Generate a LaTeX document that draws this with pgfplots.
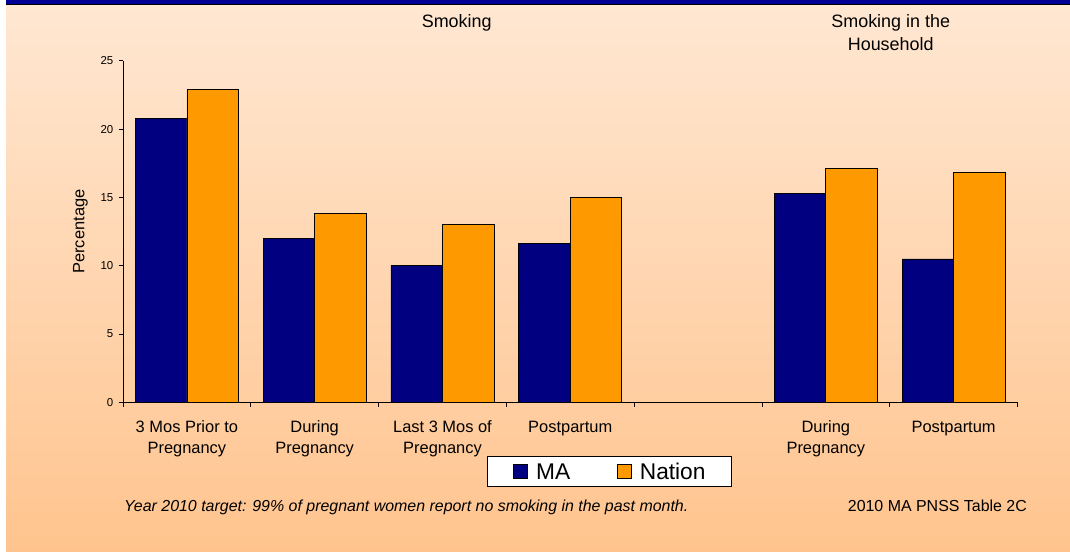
\documentclass[border=0pt]{standalone}
\usepackage{fontspec}
\setmainfont{Liberation Sans}
\usepackage{pgfplots}
\pgfplotsset{compat=1.18}
\definecolor{ma}{RGB}{0,0,128}
\definecolor{nat}{RGB}{255,153,0}
\definecolor{bgtop}{RGB}{255,231,210}
\definecolor{bgbot}{RGB}{255,196,142}
\definecolor{band}{RGB}{0,0,150}
\begin{document}
\begin{tikzpicture}[x=1bp,y=1bp]
\useasboundingbox (0,0) rectangle (1070,-552);
\shade[top color=bgtop,bottom color=bgbot] (6,-4.3) rectangle (1070,-552);
\fill[band] (6,0) rectangle (1070,-4.3);
\draw[black,line width=0.8bp] (6,-4.3) -- (1070,-4.3);
\begin{axis}[
  at={(123bp,-402.3bp)}, anchor=south west,
  scale only axis, width=894.5bp, height=341.5bp,
  ymin=0, ymax=25, ytick={0,5,...,25},
  xmin=-0.5, xmax=6.5,
  xtick={-0.5,0.5,1.5,2.5,3.5,4.5,5.5,6.5},
  x tick label as interval,
  xticklabels={{3 Mos Prior to\\Pregnancy},{During\\Pregnancy},{Last 3 Mos of\\Pregnancy},{Postpartum},{},{During\\Pregnancy},{Postpartum}},
  axis lines*=left,
  axis line style={black, line width=0.8bp},
  tick align=outside,
  major tick length=4.5bp,
  tick style={black, line width=0.8bp},
  /pgf/number format/assume math mode=true,
  yticklabel style={font=\fontsize{11.5}{13}\selectfont, anchor=east, inner sep=0pt, xshift=-5bp},
  xticklabel style={font=\fontsize{16.5}{20.5}\selectfont, align=center, anchor=north, inner sep=0pt, yshift=-14bp},
  every axis y label/.style={at={(axis description cs:-0.0475,0.5)}, rotate=90, anchor=center, font=\fontsize{16.5}{20}\selectfont},
  ylabel={Percentage},
  ybar=0pt, bar width=51.5bp,
  legend columns=2,
  legend style={at={(axis description cs:0.4069,-0.1575)}, anchor=north west,
    draw=black, line width=0.8bp, fill=white, inner xsep=26bp, inner ysep=7.1bp,
    font=\fontsize{22.8}{26}\selectfont,
    nodes={inner sep=0pt, text height=15.8bp, text depth=0pt},
    /tikz/every even column/.append style={column sep=47bp}},
]
\addplot[fill=ma, draw=black, line width=0.7bp,
  legend image code/.code={\path (0bp,0bp) (22bp,0bp); \draw[fill=ma,draw=black,line width=0.6bp] (0bp,-7bp) rectangle (14bp,7bp);}]
  coordinates {(0,20.8) (1,12.0) (2,10.0) (3,11.6) (5,15.3) (6,10.5)};
\addplot[fill=nat, draw=black, line width=0.7bp,
  legend image code/.code={\path (0bp,0bp) (22bp,0bp); \draw[fill=nat,draw=black,line width=0.6bp] (0bp,-7bp) rectangle (14bp,7bp);}]
  coordinates {(0,22.9) (1,13.8) (2,13.0) (3,15.0) (5,17.1) (6,16.8)};
\legend{MA,Nation}
\end{axis}
\node[anchor=base, font=\fontsize{18}{22}\selectfont, inner sep=0pt] at (456.7,-27.7) {Smoking};
\node[anchor=base, font=\fontsize{18}{22}\selectfont, inner sep=0pt] at (890.7,-27.7) {Smoking in the};
\node[anchor=base, font=\fontsize{18}{22}\selectfont, inner sep=0pt] at (890.7,-51) {Household};
\node[anchor=base west, font=\fontsize{16}{19}\selectfont\itshape, inner sep=0pt] at (124,-511.7) {Year 2010 target: 99\% of pregnant women report no smoking in the past month.};
\node[anchor=base west, font=\fontsize{16}{19}\selectfont, inner sep=0pt] at (847.7,-511.3) {2010 MA PNSS Table 2C};
\end{tikzpicture}
\end{document}
